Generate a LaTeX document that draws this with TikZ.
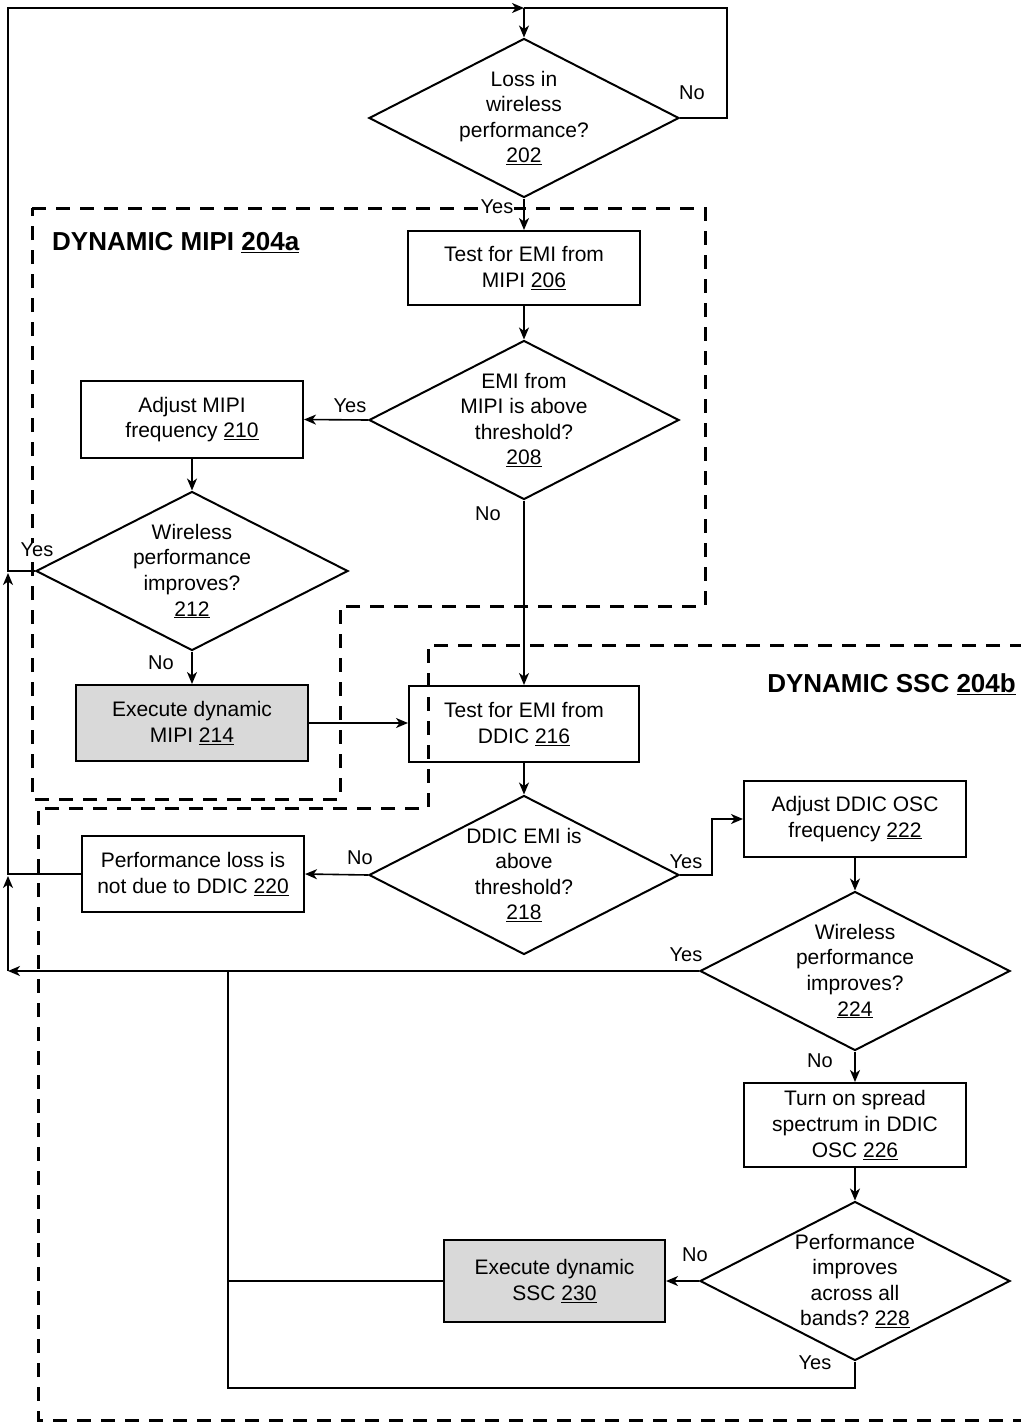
\documentclass[tikz,border=0pt]{standalone}
\usepackage{fontspec}
\setmainfont{Liberation Sans}
\usetikzlibrary{shapes.geometric,arrows.meta}
\definecolor{boxgray}{HTML}{D9D9D9}
\frenchspacing
\begin{document}
\begin{tikzpicture}[x=1pt,y=-1pt,
  txt/.style={font=\fontsize{21}{25.6}\selectfont, align=center, inner sep=0pt},
  box/.style={draw, line width=2pt, txt},
  dia/.style={draw, diamond, line width=2pt, inner sep=0pt, minimum width=310pt, minimum height=159pt},
  gray/.style={fill=boxgray},
  arr/.style={line width=1.6pt, -{Stealth[length=12pt,width=10pt,inset=3.5pt]}},
  conn/.style={line width=1.6pt},
  lbl/.style={font=\fontsize{20}{24}\selectfont, inner sep=1pt},
  region/.style={line width=3pt, dash pattern=on 14pt off 10pt},
  title/.style={font=\fontsize{26}{30}\selectfont\bfseries, inner sep=0pt}
]
\useasboundingbox (0,0) rectangle (1020,1424);

% dashed regions
\draw[region] (32,208) -- (705,208) -- (705,606) -- (340,606) -- (340,799) -- (32,799) -- cycle;
\draw[region] (1024,645) -- (428,645) -- (428,808) -- (38,808) -- (38,1420) -- (1024,1420);
\node[title, anchor=west] (t204a) at (52,243) {DYNAMIC MIPI \underline{204a}};
\node[title, anchor=east] (t204b) at (1016,684) {DYNAMIC SSC \underline{204b}};

% diamonds
\node[dia] (d202) at (524,118) {};
\node[txt] (d202t) at (d202.center) {Loss in\\wireless\\performance?\\\underline{202}};
\node[dia] (d208) at (524,420) {};
\node[txt] (d208t) at (d208.center) {EMI from\\MIPI is above\\threshold?\\\underline{208}};
\node[dia, minimum width=312pt] (d212) at (192,571) {};
\node[txt] (d212t) at (d212.center) {Wireless\\performance\\improves?\\\underline{212}};
\node[dia] (d218) at (524,875) {};
\node[txt] (d218t) at (d218.center) {DDIC EMI is\\above\\threshold?\\\underline{218}};
\node[dia] (d224) at (855,971) {};
\node[txt] (d224t) at (d224.center) {Wireless\\performance\\improves?\\\underline{224}};
\node[dia] (d228) at (855,1281) {};
\node[txt] (d228t) at (d228.center) {Performance\\improves\\across all\\bands? \underline{228}};

% boxes
\node[box, minimum width=232pt, minimum height=74pt] (b206) at (524,268) {Test for EMI from\\MIPI \underline{206}};
\node[box, minimum width=222pt, minimum height=77pt] (b210) at (192,419.5) {Adjust MIPI\\frequency \underline{210}};
\node[box, gray, minimum width=232pt, minimum height=76pt] (b214) at (192,723) {Execute dynamic\\MIPI \underline{214}};
\node[box, minimum width=230pt, minimum height=76pt] (b216) at (524,724) {Test for EMI from\\DDIC \underline{216}};
\node[box, minimum width=222pt, minimum height=76pt] (b220) at (193,874) {Performance loss is\\not due to DDIC \underline{220}};
\node[box, minimum width=222pt, minimum height=76pt] (b222) at (855,819) {Adjust DDIC OSC\\frequency \underline{222}};
\node[box, minimum width=222pt, minimum height=84pt] (b226) at (855,1125) {Turn on spread\\spectrum in DDIC\\OSC \underline{226}};
\node[box, gray, minimum width=221pt, minimum height=82pt] (b230) at (554.5,1281) {Execute dynamic\\SSC \underline{230}};

% junction coordinates
\coordinate (jtop) at (524,8);
\coordinate (jleft) at (8,971);
\coordinate (jmid) at (228,971);

% connectors
\draw[conn] (d202.east) -- (727,118) -- (727,8) -- (jtop);
\draw[arr] (jtop) -- (d202.north);
\draw[arr] (d212.west) -- (8,571) -- (8,8) -- (jtop);
\draw[arr] (d202.south) -- (b206.north);
\draw[arr] (b206.south) -- (d208.north);
\draw[arr] (d208.west) -- (b210.east);
\draw[arr] (b210.south) -- (d212.north);
\draw[arr] (d212.south) -- (b214.north);
\draw[arr] (b214.east) -- (b214.east -| b216.west);
\draw[arr] (d208.south) -- (b216.north);
\draw[arr] (b216.south) -- (d218.north);
\draw[arr] (d218.west) -- (b220.east);
\draw[arr] (b220.west) -- (8,874) -- (8,573);
\draw[arr] (jleft) -- (8,876);
\draw[arr] (d224.west) -- (jleft);
\draw[arr] (d218.east) -- (712,875) |- (b222.west);
\draw[arr] (b222.south) -- (d224.north);
\draw[arr] (d224.south) -- (b226.north);
\draw[arr] (b226.south) -- (d228.north);
\draw[arr] (d228.west) -- (b230.east);
\draw[conn] (b230.west) -- (228,1281);
\draw[conn] (d228.south) -- (855,1388) -- (228,1388) -- (jmid);

% labels
\node[lbl, fill=white] (l1) at (497,207) {Yes};
\node[lbl] (l2) at (692,93) {No};
\node[lbl] (l3) at (350,406) {Yes};
\node[lbl, fill=white, inner sep=0pt] (l4) at (37,550) {Yes};
\node[lbl] (l5) at (161,663) {No};
\node[lbl] (l6) at (488,514) {No};
\node[lbl] (l7) at (360,858) {No};
\node[lbl] (l8) at (686,862) {Yes};
\node[lbl] (l9) at (686,955) {Yes};
\node[lbl] (l10) at (820,1061) {No};
\node[lbl] (l11) at (695,1255) {No};
\node[lbl] (l12) at (815,1363) {Yes};
\end{tikzpicture}
\end{document}
